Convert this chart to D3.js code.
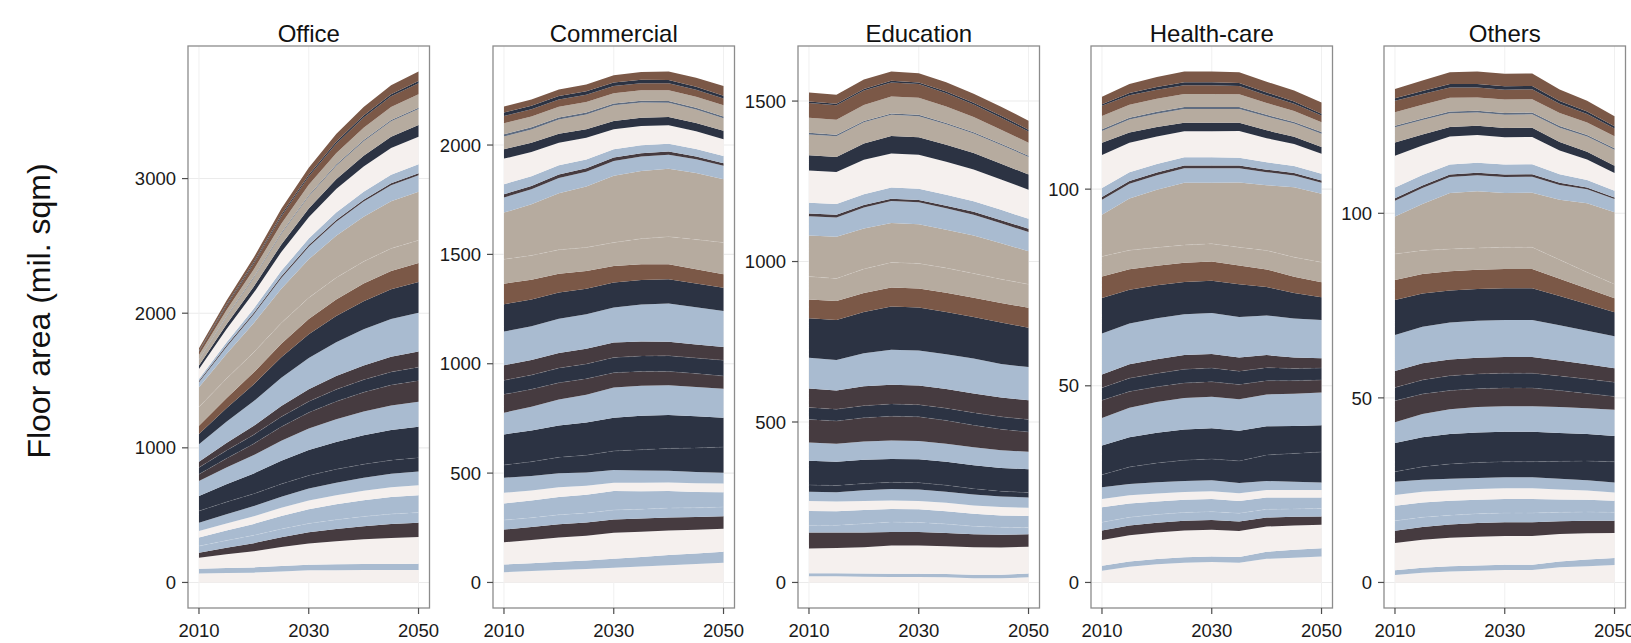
<!DOCTYPE html>
<html>
<head>
<meta charset="utf-8">
<script src="https://cdn.jsdelivr.net/npm/d3@7/dist/d3.min.js"></script>
<style>
  html, body { margin: 0; padding: 0; background: #ffffff; }
  svg { display: block; font-family: "Liberation Sans", Arial, Helvetica, sans-serif; }
</style>
</head>
<body>
<svg id="chart" width="1631" height="643"></svg>
<script>
// Years on the horizontal axis
const years = [2010, 2015, 2020, 2025, 2030, 2035, 2040, 2045, 2050];
const xTicks = [2010, 2030, 2050];

// Stack layers, bottom to top
const layerKeys = ["b01","b02","b03","b04","b05","b06","b07","b08","b09","b10",
                   "b11","b12","b13","b14","b15","b16","b17","b18","b19","b20",
                   "b21","b22","b23","b24","b25","b26","b27","b28","b29","b30"];
const cream = "#f5f0ee", lightBlue = "#a9bbd0", navy = "#2c3343",
      plum = "#463b40", brown = "#7b5847", taupe = "#b6ab9f", slate = "#5f6c80";
const layerColors = [cream, lightBlue, cream, plum, lightBlue, lightBlue, cream, lightBlue, navy, navy,
                     lightBlue, plum, navy, plum, lightBlue, navy, brown, taupe, taupe, lightBlue,
                     plum, lightBlue, cream, navy, taupe, slate, taupe, brown, navy, brown];
// layers whose upper edge shows a faint light seam
const seamLayers = ["b05", "b09", "b12", "b13", "b18"];

const panelTitles = ["Office", "Commercial", "Education", "Health-care", "Others"];

// Floor area per layer (mil. sqm), one row per layer, one column per year
const officeValues = [
  [67, 70, 73, 82, 90, 91, 92, 92, 92],
  [35, 37, 39, 41, 42, 44, 45, 46, 47],
  [82, 102, 120, 140, 157, 171, 183, 192, 198],
  [37, 49, 60, 72, 83, 91, 98, 104, 107],
  [49, 53, 58, 62, 66, 69, 72, 74, 75],
  [63, 74, 85, 96, 106, 114, 120, 126, 129],
  [49, 53, 57, 62, 65, 68, 71, 73, 74],
  [62, 69, 75, 82, 88, 93, 97, 100, 102],
  [87, 90, 92, 95, 97, 99, 100, 101, 102],
  [112, 132, 151, 172, 189, 204, 216, 225, 231],
  [111, 124, 136, 149, 160, 169, 176, 182, 186],
  [50, 68, 85, 103, 119, 132, 142, 151, 156],
  [50, 59, 67, 75, 83, 89, 94, 98, 100],
  [42, 55, 66, 79, 90, 99, 106, 112, 116],
  [131, 158, 183, 210, 233, 252, 268, 280, 288],
  [75, 101, 126, 152, 175, 194, 209, 221, 229],
  [62, 75, 88, 102, 113, 123, 131, 137, 141],
  [140, 145, 149, 154, 158, 162, 164, 167, 168],
  [146, 183, 217, 254, 286, 312, 333, 350, 361],
  [37, 52, 65, 80, 93, 103, 112, 119, 123],
  [10, 11, 12, 12, 13, 14, 14, 15, 15],
  [14, 23, 31, 41, 48, 55, 60, 64, 67],
  [75, 97, 118, 140, 159, 174, 187, 198, 204],
  [25, 36, 45, 56, 65, 73, 79, 84, 87],
  [39, 53, 65, 79, 91, 101, 109, 115, 119],
  [5, 6, 7, 8, 8, 9, 9, 10, 10],
  [35, 46, 56, 67, 77, 84, 91, 96, 99],
  [25, 35, 44, 54, 62, 69, 75, 79, 82],
  [7, 9, 10, 12, 13, 15, 16, 16, 17],
  [18, 27, 35, 44, 52, 58, 63, 67, 70]
];

const commercialValues = [
  [47, 52, 57, 61, 67, 73, 79, 84, 90],
  [35, 36, 38, 39, 41, 43, 46, 48, 50],
  [102, 106, 111, 114, 119, 116, 113, 109, 106],
  [58, 59, 60, 60, 61, 60, 59, 58, 57],
  [43, 43, 43, 43, 43, 43, 43, 42, 42],
  [76, 79, 82, 84, 87, 82, 78, 73, 68],
  [49, 46, 44, 41, 38, 39, 39, 40, 40],
  [69, 66, 64, 61, 58, 56, 54, 51, 49],
  [58, 65, 73, 79, 87, 95, 102, 110, 117],
  [140, 143, 146, 149, 152, 155, 153, 145, 134],
  [99, 108, 119, 127, 138, 137, 136, 134, 133],
  [84, 80, 76, 73, 68, 66, 63, 61, 58],
  [64, 65, 67, 68, 69, 70, 71, 71, 72],
  [69, 69, 69, 69, 69, 67, 65, 62, 60],
  [154, 155, 157, 158, 160, 169, 174, 170, 165],
  [125, 122, 120, 117, 114, 112, 111, 109, 107],
  [94, 90, 85, 81, 76, 72, 69, 65, 61],
  [112, 111, 110, 108, 107, 117, 126, 136, 145],
  [213, 234, 259, 278, 305, 309, 310, 304, 290],
  [69, 69, 69, 68, 68, 66, 65, 63, 61],
  [15, 15, 16, 16, 16, 15, 14, 13, 12],
  [46, 44, 42, 40, 38, 37, 36, 34, 33],
  [117, 111, 104, 99, 91, 88, 84, 81, 77],
  [43, 42, 41, 39, 38, 38, 38, 38, 38],
  [58, 61, 65, 68, 72, 69, 65, 62, 58],
  [10, 10, 9, 9, 8, 8, 8, 7, 7],
  [51, 50, 49, 48, 47, 48, 50, 51, 52],
  [33, 33, 33, 33, 33, 33, 32, 32, 31],
  [16, 16, 16, 16, 16, 15, 14, 13, 12],
  [27, 28, 30, 31, 33, 36, 39, 42, 45]
];

const educationValues = [
  [19, 19, 18, 17, 17, 16, 13, 13, 16],
  [10, 10, 10, 10, 10, 10, 11, 11, 12],
  [77, 78, 82, 88, 88, 87, 86, 85, 83],
  [50, 49, 46, 42, 42, 41, 40, 40, 39],
  [22, 22, 27, 31, 30, 28, 25, 23, 21],
  [45, 44, 43, 41, 41, 40, 39, 37, 36],
  [31, 30, 28, 26, 26, 26, 26, 26, 26],
  [29, 29, 33, 36, 36, 35, 34, 33, 32],
  [21, 21, 21, 21, 21, 20, 18, 16, 15],
  [75, 74, 74, 73, 73, 73, 73, 73, 73],
  [57, 56, 57, 57, 57, 56, 56, 55, 54],
  [72, 71, 74, 76, 75, 73, 69, 65, 62],
  [37, 37, 38, 38, 38, 38, 39, 39, 39],
  [59, 58, 60, 60, 60, 60, 60, 60, 60],
  [96, 95, 103, 109, 109, 108, 109, 105, 103],
  [123, 125, 129, 135, 134, 132, 129, 129, 123],
  [59, 59, 59, 59, 59, 60, 60, 61, 62],
  [71, 70, 75, 78, 78, 77, 76, 74, 73],
  [128, 130, 126, 123, 122, 119, 118, 112, 103],
  [60, 60, 65, 69, 69, 67, 65, 62, 60],
  [9, 9, 8, 7, 7, 8, 9, 10, 10],
  [33, 33, 34, 35, 35, 34, 33, 32, 31],
  [101, 100, 107, 106, 106, 103, 99, 95, 91],
  [47, 47, 51, 54, 54, 53, 51, 49, 47],
  [65, 64, 66, 66, 66, 64, 61, 58, 55],
  [5, 5, 4, 4, 4, 4, 4, 4, 4],
  [47, 47, 50, 53, 53, 51, 47, 44, 40],
  [46, 45, 45, 44, 43, 41, 39, 37, 35],
  [5, 5, 5, 5, 5, 6, 6, 6, 6],
  [28, 28, 29, 29, 29, 29, 28, 28, 28]
];

const healthValues = [
  [3.0, 4.0, 4.6, 5.0, 5.2, 5.0, 6.0, 6.3, 6.6],
  [1.25, 1.3, 1.35, 1.4, 1.4, 1.5, 1.8, 2.0, 2.1],
  [6.55, 6.7, 6.75, 6.8, 6.8, 6.6, 6.4, 6.2, 6.0],
  [2.4, 2.45, 2.5, 2.5, 2.5, 2.4, 2.3, 2.2, 2.1],
  [2.1, 2.1, 2.1, 2.1, 2.1, 2.1, 2.1, 2.0, 2.0],
  [3.8, 3.5, 3.3, 3.2, 3.2, 3.1, 3.0, 2.9, 2.8],
  [2.15, 2.1, 2.0, 2.0, 2.0, 2.0, 1.9, 1.9, 1.9],
  [2.95, 2.9, 2.85, 2.8, 2.8, 2.6, 2.3, 2.1, 1.9],
  [3.2, 4.3, 4.9, 5.3, 5.4, 5.6, 6.6, 7.2, 7.8],
  [7.4, 7.6, 7.7, 7.8, 7.8, 7.7, 7.3, 7.0, 6.8],
  [7.0, 7.5, 7.8, 8.0, 8.0, 8.0, 8.1, 8.2, 8.3],
  [4.5, 4.1, 3.9, 3.8, 3.8, 3.7, 3.5, 3.3, 3.2],
  [3.2, 3.4, 3.4, 3.5, 3.5, 3.4, 3.3, 3.1, 3.0],
  [3.4, 3.5, 3.6, 3.6, 3.6, 3.5, 3.2, 2.8, 2.5],
  [10.4, 10.4, 10.4, 10.4, 10.4, 10.3, 10.1, 9.9, 9.7],
  [9.0, 8.6, 8.4, 8.2, 8.2, 8.3, 7.2, 6.5, 5.8],
  [5.5, 5.2, 5.0, 4.9, 4.9, 4.8, 4.5, 4.1, 3.8],
  [5.1, 4.8, 4.6, 4.5, 4.5, 4.6, 4.8, 5.0, 5.1],
  [10.6, 13.2, 14.7, 15.8, 15.5, 16.5, 16.6, 17.8, 17.4],
  [3.8, 3.75, 3.7, 3.7, 3.7, 3.6, 3.3, 3.0, 2.8],
  [0.7, 0.7, 0.7, 0.7, 0.7, 0.7, 0.65, 0.6, 0.6],
  [2.3, 2.2, 2.15, 2.1, 2.1, 2.0, 1.9, 1.8, 1.7],
  [8.4, 7.5, 7.0, 6.6, 6.6, 6.8, 6.1, 5.6, 5.1],
  [3.1, 2.6, 2.4, 2.2, 2.2, 2.1, 2.0, 1.8, 1.7],
  [3.0, 3.3, 3.4, 3.5, 3.5, 3.5, 3.5, 3.4, 3.4],
  [0.4, 0.45, 0.5, 0.5, 0.5, 0.5, 0.45, 0.4, 0.4],
  [3.4, 3.3, 3.3, 3.3, 3.3, 3.2, 3.0, 2.8, 2.5],
  [2.6, 2.4, 2.3, 2.2, 2.2, 2.1, 2.0, 1.8, 1.7],
  [0.4, 0.6, 0.7, 0.8, 0.8, 0.8, 0.7, 0.6, 0.5],
  [1.9, 2.3, 2.5, 2.7, 2.7, 2.7, 2.7, 2.8, 2.8]
];

const othersValues = [
  [2.0, 2.6, 3.0, 3.2, 3.4, 3.4, 4.1, 4.4, 4.7],
  [1.3, 1.35, 1.4, 1.4, 1.4, 1.4, 1.6, 1.8, 1.9],
  [7.4, 7.6, 7.7, 7.8, 7.8, 7.8, 7.4, 7.1, 6.8],
  [3.3, 3.5, 3.6, 3.7, 3.7, 3.7, 3.5, 3.4, 3.3],
  [2.7, 2.6, 2.5, 2.5, 2.5, 2.5, 2.4, 2.4, 2.3],
  [4.1, 4.0, 3.9, 3.8, 3.8, 3.8, 3.5, 3.3, 3.1],
  [2.9, 2.9, 2.9, 2.9, 2.9, 2.9, 2.7, 2.5, 2.3],
  [3.6, 3.3, 3.1, 3.0, 3.0, 3.0, 2.9, 2.8, 2.7],
  [2.7, 3.5, 4.0, 4.2, 4.2, 4.2, 4.7, 5.2, 5.6],
  [7.8, 8.0, 8.1, 8.1, 8.1, 8.1, 7.7, 7.3, 7.0],
  [5.6, 6.3, 6.7, 6.9, 6.9, 6.9, 7.0, 7.0, 7.1],
  [5.8, 5.4, 5.1, 5.0, 5.0, 5.0, 4.5, 4.0, 3.6],
  [3.6, 3.8, 4.0, 4.0, 4.0, 4.0, 3.9, 3.9, 3.8],
  [4.5, 4.5, 4.4, 4.4, 4.4, 4.4, 4.2, 4.0, 3.8],
  [9.7, 9.9, 10.0, 10.0, 10.0, 10.0, 9.6, 9.1, 8.7],
  [9.5, 9.0, 8.7, 8.6, 8.6, 8.6, 7.9, 7.2, 6.5],
  [5.4, 5.3, 5.2, 5.2, 5.2, 5.2, 4.7, 4.2, 3.8],
  [7.1, 6.4, 6.0, 5.9, 5.9, 5.9, 5.1, 4.4, 3.8],
  [10.1, 12.6, 15.2, 15.4, 14.7, 14.8, 16.3, 18.7, 19.5],
  [4.3, 4.3, 4.3, 4.3, 4.3, 4.3, 4.0, 3.8, 3.6],
  [0.7, 0.7, 0.7, 0.7, 0.7, 0.7, 0.6, 0.5, 0.4],
  [2.9, 2.8, 2.7, 2.7, 2.7, 2.7, 2.3, 2.0, 1.8],
  [8.6, 8.0, 7.6, 7.5, 7.4, 7.4, 6.4, 5.6, 4.8],
  [3.6, 3.0, 2.6, 2.5, 2.5, 2.5, 2.3, 2.1, 2.0],
  [4.1, 3.9, 3.7, 3.6, 3.6, 3.6, 3.9, 4.1, 4.3],
  [0.4, 0.45, 0.5, 0.5, 0.5, 0.5, 0.45, 0.4, 0.4],
  [3.7, 3.7, 3.7, 3.6, 3.6, 3.6, 3.5, 3.4, 3.3],
  [3.1, 2.9, 2.8, 2.7, 2.7, 2.7, 2.5, 2.3, 2.1],
  [0.7, 0.8, 0.9, 0.9, 0.9, 0.9, 0.8, 0.7, 0.6],
  [2.5, 2.9, 3.2, 3.4, 3.4, 3.4, 3.1, 2.9, 2.7]
];

// y tick labels per panel
const officeTicks = [0, 1000, 2000, 3000];
const commercialTicks = [0, 500, 1000, 1500, 2000];
const educationTicks = [0, 500, 1000, 1500];
const healthTicks = [0, 50, 100];
const othersTicks = [0, 50, 100];

const yTitle = "Floor area (mil. sqm)";

const panelValues = [officeValues, commercialValues, educationValues, healthValues, othersValues];
const panelTicks = [officeTicks, commercialTicks, educationTicks, healthTicks, othersTicks];

// layout
const panelLeft = [188, 493, 798, 1091, 1384];
const panelWidth = 241.5;
const panelTop = 46, panelBottom = 608;
const tickLen = 6;

const svg = d3.select("#chart");
svg.append("rect").attr("width", 1631).attr("height", 643).attr("fill", "#ffffff");

panelTitles.forEach((title, i) => {
  const values = panelValues[i];
  const table = years.map((yr, j) => {
    const row = { year: yr };
    layerKeys.forEach((k, li) => { row[k] = values[li][j]; });
    return row;
  });
  const series = d3.stack().keys(layerKeys)(table);
  const maxV = d3.max(series[series.length - 1], d => d[1]);

  const x0 = panelLeft[i], x1 = x0 + panelWidth;
  const x = d3.scaleLinear().domain([2010 - 2, 2050 + 2]).range([x0, x1]);
  const y = d3.scaleLinear().domain([-0.05 * maxV, 1.05 * maxV]).range([panelBottom, panelTop]);

  const g = svg.append("g");

  // panel background and grid
  g.append("rect").attr("x", x0).attr("y", panelTop)
    .attr("width", panelWidth).attr("height", panelBottom - panelTop).attr("fill", "#ffffff");
  g.append("g").selectAll("line").data(panelTicks[i]).join("line")
    .attr("x1", x0).attr("x2", x1)
    .attr("y1", d => y(d)).attr("y2", d => y(d))
    .attr("stroke", "#ebebeb").attr("stroke-width", 1.1);
  g.append("g").selectAll("line").data(xTicks).join("line")
    .attr("x1", d => x(d)).attr("x2", d => x(d))
    .attr("y1", panelTop).attr("y2", panelBottom)
    .attr("stroke", "#f0f0f0").attr("stroke-width", 1);

  // stacked areas
  const area = d3.area()
    .x(d => x(d.data.year))
    .y0(d => y(d[0]))
    .y1(d => y(d[1]))
    .curve(d3.curveLinear);
  g.append("g").selectAll("path").data(series).join("path")
    .attr("d", area)
    .attr("fill", (d, k) => layerColors[k]);

  // faint dashed seams along the top of some layers
  const edge = d3.line().x(d => x(d.data.year)).y(d => y(d[1]));
  g.append("g").selectAll("path").data(series.filter(s => seamLayers.includes(s.key))).join("path")
    .attr("d", edge)
    .attr("fill", "none")
    .attr("stroke", "rgba(255,255,255,0.16)")
    .attr("stroke-width", 0.8)
    .attr("stroke-dasharray", "8,4");

  // panel border
  g.append("rect").attr("x", x0).attr("y", panelTop)
    .attr("width", panelWidth).attr("height", panelBottom - panelTop)
    .attr("fill", "none").attr("stroke", "#8c8c8c").attr("stroke-width", 1.3);

  // y axis
  const yAxis = g.append("g");
  yAxis.selectAll("line").data(panelTicks[i]).join("line")
    .attr("x1", x0 - tickLen).attr("x2", x0)
    .attr("y1", d => y(d)).attr("y2", d => y(d))
    .attr("stroke", "#4d4d4d").attr("stroke-width", 1.2);
  yAxis.selectAll("text").data(panelTicks[i]).join("text")
    .attr("x", x0 - tickLen - 6).attr("y", d => y(d))
    .attr("dy", "0.36em")
    .attr("text-anchor", "end")
    .attr("font-size", 18.5).attr("fill", "#1a1a1a")
    .text(d => d);

  // x axis
  const xAxis = g.append("g");
  xAxis.selectAll("line").data(xTicks).join("line")
    .attr("x1", d => x(d)).attr("x2", d => x(d))
    .attr("y1", panelBottom).attr("y2", panelBottom + tickLen)
    .attr("stroke", "#4d4d4d").attr("stroke-width", 1.2);
  xAxis.selectAll("text").data(xTicks).join("text")
    .attr("x", d => x(d)).attr("y", 637)
    .attr("text-anchor", "middle")
    .attr("font-size", 18.5).attr("fill", "#1a1a1a")
    .text(d => d);

  // facet title
  g.append("text")
    .attr("x", (x0 + x1) / 2).attr("y", 41.5)
    .attr("text-anchor", "middle")
    .attr("font-size", 24).attr("fill", "#111111")
    .text(title);
});

// shared y axis title
svg.append("text")
  .attr("transform", "translate(50,311) rotate(-90)")
  .attr("text-anchor", "middle")
  .attr("font-size", 32).attr("fill", "#111111")
  .text(yTitle);
</script>
</body>
</html>
